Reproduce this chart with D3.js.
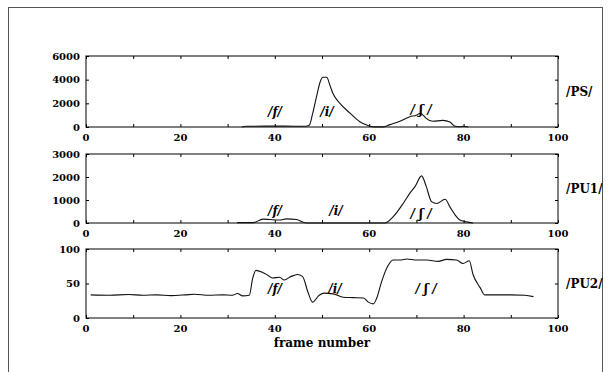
<!DOCTYPE html>
<html>
<head>
<meta charset="utf-8">
<script src="https://cdn.jsdelivr.net/npm/d3@7"></script>
<style>
  body { margin: 0; background: #fff; }
  text { font-family: "DejaVu Serif", "Liberation Serif", serif; font-weight: bold; fill: #000; }
</style>
</head>
<body>
<svg id="chart" width="610" height="372"></svg>
<script>
// frame numbers and values
const psFrames = [33, 34, 38, 42, 46.5, 47.3, 48, 49, 49.6, 50.2, 51, 51.7, 52.3, 53.8, 56, 58, 59.5, 61, 63, 64.4, 66.5, 68.6, 70, 70.8, 71.3, 72, 73.5, 75.6, 77.1, 78.2, 79, 80, 81]
const psValues = [0, 60, 70, 70, 60, 150, 1100, 2850, 3800, 4200, 4200, 3500, 2850, 2000, 1150, 450, 160, 10, 10, 200, 480, 870, 1000, 1150, 1050, 750, 480, 560, 420, 60, 20, 60, 0]

const pu1Frames = [32, 35.4, 37.5, 39, 41, 42.5, 44.6, 46.4, 47, 63.3, 65.1, 67.2, 68.6, 69.7, 71.1, 72.1, 73.2, 74.3, 76.1, 77.1, 78.2, 79.2, 80.6, 82]
const pu1Values = [15, 15, 170, 150, 130, 180, 150, 10, 0, 0, 275, 850, 1290, 1580, 2050, 1580, 930, 850, 1030, 700, 350, 130, 50, 0]

const pu2Frames = [1, 5, 9, 12, 15, 18, 21, 23, 26, 29, 31, 32.1, 33.2, 34.6, 35.3, 36, 37.4, 38.5, 39.5, 41, 42, 43.4, 44.8, 45.9, 47, 48, 49.4, 50.5, 52.4, 54.5, 56.6, 58.8, 59.8, 60.9, 61.6, 62.6, 64, 65.1, 66.5, 68, 70, 72.2, 74.6, 76.4, 78.5, 79.9, 81.2, 82, 83.5, 84.5, 87, 90, 93, 94.8]
const pu2Values = [33.5, 33, 34, 33, 33.5, 32.5, 33.5, 34.5, 33, 33.5, 33, 35.5, 32, 33, 57, 69, 66, 62, 58, 59, 55, 60, 63, 60, 38, 23, 33, 36, 35, 30, 29.5, 29, 23, 20.5, 29, 52, 76, 84, 84, 85.5, 84, 84, 82, 85, 84, 79, 83, 63, 44, 33.5, 33.5, 33.5, 33, 31]

const xTicks = [0, 20, 40, 60, 80, 100]
const psTicks = [0, 2000, 4000, 6000]
const pu1Ticks = [0, 1000, 2000, 3000]
const pu2Ticks = [0, 50, 100]

const panels = [
  { name: '/PS/', frames: psFrames, values: psValues, ticks: psTicks, max: 6000, top: 56, bottom: 127,
    marks: [['/f/', 275, 112], ['/i/', 327, 112], ['/ ʃ /', 421, 110]] },
  { name: '/PU1/', frames: pu1Frames, values: pu1Values, ticks: pu1Ticks, max: 3000, top: 154, bottom: 223,
    marks: [['/f/', 275, 211], ['/i/', 336, 211], ['/ ʃ /', 421, 214]] },
  { name: '/PU2/', frames: pu2Frames, values: pu2Values, ticks: pu2Ticks, max: 100, top: 249, bottom: 318,
    marks: [['/f/', 275, 289], ['/i/', 335, 289], ['/ ʃ /', 426, 289]] }
]

const svg = d3.select('#chart')

// outer frame of the figure
svg.append('rect')
   .attr('x', 8.5).attr('y', 7.5)
   .attr('width', 594).attr('height', 370)
   .attr('fill', 'none')
   .attr('stroke', '#555')
   .attr('stroke-width', 1)

const x = d3.scaleLinear().domain([0, 100]).range([86, 558])

panels.forEach(p => {
  const y = d3.scaleLinear().domain([0, p.max]).range([p.bottom, p.top])
  const g = svg.append('g')

  // inward ticks on all sides
  const minor = d3.range(0, 101, 10)
  g.append('g').attr('transform', `translate(0,${p.bottom})`)
   .call(d3.axisBottom(x).tickValues(minor).tickSize(-3).tickFormat(''))
  g.append('g').attr('transform', `translate(0,${p.top})`)
   .call(d3.axisTop(x).tickValues(minor).tickSize(-3).tickFormat(''))
  g.append('g').attr('transform', `translate(86,0)`)
   .call(d3.axisLeft(y).tickValues(p.ticks).tickSize(-3).tickFormat(''))
  g.append('g').attr('transform', `translate(558,0)`)
   .call(d3.axisRight(y).tickValues(p.ticks).tickSize(-3).tickFormat(''))
  g.selectAll('.domain').remove()
  g.selectAll('.tick line').attr('stroke', '#000')

  g.append('rect')
   .attr('x', x(0)).attr('y', p.top)
   .attr('width', x(100) - x(0)).attr('height', p.bottom - p.top)
   .attr('fill', 'none').attr('stroke', '#000').attr('stroke-width', 1)

  // tick labels
  g.selectAll('.ylab').data(p.ticks).enter().append('text')
   .attr('x', 80).attr('y', d => y(d) + 3.5)
   .attr('text-anchor', 'end')
   .style('font-size', '10px')
   .text(d => d)
  g.selectAll('.xlab').data(xTicks).enter().append('text')
   .attr('x', d => x(d)).attr('y', p.bottom + 14)
   .attr('text-anchor', 'middle')
   .style('font-size', '10px')
   .text(d => d)

  // the series
  const line = d3.line()
                 .x((d, i) => x(p.frames[i]))
                 .y(d => y(d))
                 .curve(d3.curveMonotoneX)
  g.append('path')
   .attr('d', line(p.values))
   .attr('fill', 'none')
   .attr('stroke', '#111')
   .attr('stroke-width', 1.1)

  g.append('text')
   .attr('x', 566).attr('y', (p.top + p.bottom) / 2 + 4)
   .style('font-size', '12px')
   .text(p.name)

  p.marks.forEach(m => {
    g.append('text')
     .attr('x', m[1]).attr('y', m[2] + 4)
     .attr('text-anchor', 'middle')
     .style('font-size', '12px')
     .style('font-style', 'italic')
     .text(m[0])
  })
})

svg.append('text')
   .attr('x', 322).attr('y', 347)
   .attr('text-anchor', 'middle')
   .style('font-size', '12px')
   .text('frame number')
</script>
</body>
</html>
